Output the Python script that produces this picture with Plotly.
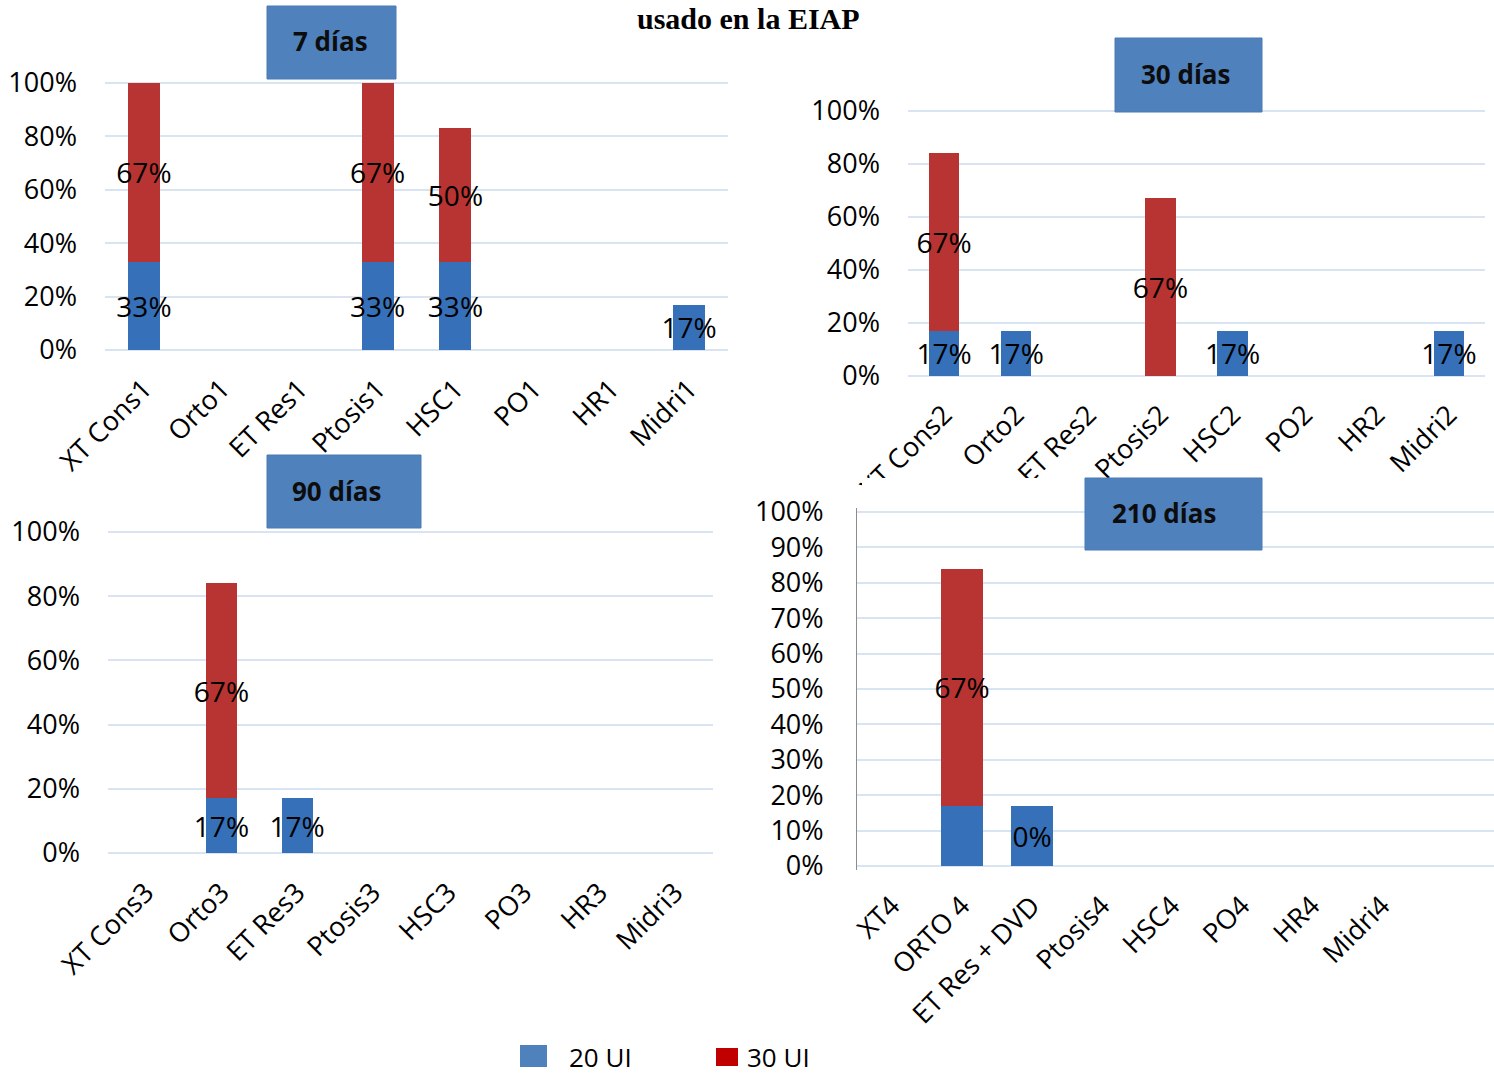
import plotly.graph_objects as go

# ---- data -------------------------------------------------------------
cats_7 = ["XT Cons1", "Orto1", "ET Res1", "Ptosis1", "HSC1", "PO1", "HR1", "Midri1"]
ui20_7 = [0.33, None, None, 0.33, 0.33, None, None, 0.17]
ui30_7 = [0.67, None, None, 0.67, 0.50, None, None, None]

cats_30 = ["XT Cons2", "Orto2", "ET Res2", "Ptosis2", "HSC2", "PO2", "HR2", "Midri2"]
ui20_30 = [0.17, 0.17, None, None, 0.17, None, None, 0.17]
ui30_30 = [0.67, None, None, 0.67, None, None, None, None]

cats_90 = ["XT Cons3", "Orto3", "ET Res3", "Ptosis3", "HSC3", "PO3", "HR3", "Midri3"]
ui20_90 = [None, 0.17, 0.17, None, None, None, None, None]
ui30_90 = [None, 0.67, None, None, None, None, None, None]

cats_210 = ["XT4", "ORTO 4", "ET Res + DVD", "Ptosis4", "HSC4", "PO4", "HR4", "Midri4"]
ui20_210 = [None, 0.17, 0.17, None, None, None, None, None]
ui30_210 = [None, 0.67, None, None, None, None, None, None]
labels20_210 = ["", "", "0%", "", "", "", "", ""]
labels30_210 = ["", "67%", "", "", "", "", "", ""]

series_names = ["20 UI", "30 UI"]
panel_titles = ["7 días", "30 días", "90 días", "210 días"]
chart_title = "usado en la EIAP"

# ---- styling ----------------------------------------------------------
W, H = 1494, 1074
FONT = "Open Sans"
BLUE = "#3570b8"
RED = "#b73433"
GRID = "#d8e4f2"
BOX = "#4f81bd"


def xdom(left, right):
    return [left / W, right / W]


def ydom(px0, px100, pad=0.01):
    ppu = px0 - px100
    bottom = px0 + pad * ppu
    top = px100 - pad * ppu
    return [1 - bottom / H, 1 - top / H]


fig = go.Figure()

panels = [
    dict(c=cats_7, a=ui20_7, b=ui30_7, la=None, lb=None, x=(105, 728), y=(350, 83),
         xr=[-0.5, 7.5], w=0.41, dt=0.2),
    dict(c=cats_30, a=ui20_30, b=ui30_30, la=None, lb=None, x=(908, 1485), y=(376, 111),
         xr=[-0.5, 7.5], w=0.42, dt=0.2),
    dict(c=cats_90, a=ui20_90, b=ui30_90, la=None, lb=None, x=(108, 713), y=(853, 532),
         xr=[-0.5, 7.5], w=0.41, dt=0.2),
    dict(c=cats_210, a=ui20_210, b=ui30_210, la=labels20_210, lb=labels30_210, x=(857, 1494),
         y=(866, 512), xr=[-0.5, 8.6], w=0.59, dt=0.1),
]

label_font = dict(family=FONT, size=28, color="black")
tick_font = dict(family=FONT, size=27, color="black")

for i, p in enumerate(panels, start=1):
    xa = "x" if i == 1 else f"x{i}"
    ya = "y" if i == 1 else f"y{i}"
    for vals, labels, name, color in ((p["a"], p["la"], series_names[0], BLUE),
                                      (p["b"], p["lb"], series_names[1], RED)):
        kw = {}
        if labels is None:
            kw["texttemplate"] = "%{y:.0%}"
        else:
            kw["text"] = labels
            kw["texttemplate"] = "%{text}"
        fig.add_trace(go.Bar(
            x=p["c"], y=vals, name=name, xaxis=xa, yaxis=ya,
            width=p["w"], marker=dict(color=color, line=dict(width=0)),
            textposition="inside", insidetextanchor="middle", textangle=0,
            constraintext="none", cliponaxis=False,
            insidetextfont=label_font, showlegend=False, hoverinfo="skip",
            **kw,
        ))

    ticks = [round(k * p["dt"], 2) for k in range(int(round(1 / p["dt"])) + 1)]
    fig.update_layout(**{
        ("xaxis" if i == 1 else f"xaxis{i}"): dict(
            domain=xdom(*p["x"]), anchor=ya, range=p["xr"], type="category",
            tickangle=-45, tickfont=tick_font,
            showgrid=False, showline=False, zeroline=False, ticks="",
            ticklabelstandoff=14, automargin=False, fixedrange=True,
        ),
        ("yaxis" if i == 1 else f"yaxis{i}"): dict(
            domain=ydom(*p["y"]), anchor=xa, range=[-0.01, 1.01],
            tickvals=ticks, tickformat=".0%", tickfont=tick_font,
            showgrid=True, gridcolor=GRID, gridwidth=2, zeroline=False,
            showline=(i == 4), linecolor="#8c8c8c", linewidth=1,
            ticks="", ticklabelstandoff=27, automargin=False, fixedrange=True,
        ),
    })

shapes = [
    # white margins where the 30-day labels run under the neighbouring panels
    dict(type="rect", xref="paper", yref="paper", x0=740 / W, x1=862 / W,
         y0=1 - 480 / H, y1=1 - 392 / H, fillcolor="white", line=dict(width=0), layer="above"),
    dict(type="rect", xref="paper", yref="paper", x0=862 / W, x1=1 - 0.0001,
         y0=1 - 500 / H, y1=1 - 478 / H, fillcolor="white", line=dict(width=0), layer="above"),
]

# title boxes for each panel
boxes = [(267, 396, 6, 79, 330), (1115, 1262, 38, 112, 1186),
         (267, 421, 455, 528, 337), (1085, 1262, 478, 550, 1164)]
annotations = []
for (x0, x1, y0, y1, tx), txt in zip(boxes, panel_titles):
    shapes.append(dict(type="rect", xref="paper", yref="paper",
                       x0=x0 / W, x1=x1 / W, y0=1 - y1 / H, y1=1 - y0 / H,
                       fillcolor=BOX, line=dict(color="#4a7ab3", width=1), layer="above"))
    annotations.append(dict(text=f"<b>{txt}</b>", xref="paper", yref="paper",
                            x=tx / W, y=1 - (y0 + y1 - 2) / 2 / H, xanchor="center", yanchor="middle",
                            showarrow=False, font=dict(family=FONT, size=26, color="#0d0d0d")))

# legend
legend_items = [(520, 547, 1045, 1067, "#4f81bd", 567, series_names[0]),
                (716, 738, 1048, 1066, "#c00000", 745, series_names[1])]
for x0, x1, y0, y1, col, tx, name in legend_items:
    shapes.append(dict(type="rect", xref="paper", yref="paper",
                       x0=x0 / W, x1=x1 / W, y0=1 - y1 / H, y1=1 - y0 / H,
                       fillcolor=col, line=dict(width=0), layer="above"))
    annotations.append(dict(text=name, xref="paper", yref="paper", x=tx / W, y=1 - 1057 / H,
                            xanchor="left", yanchor="middle", showarrow=False,
                            font=dict(family=FONT, size=26, color="black")))

annotations.append(dict(text=f"<b>{chart_title}</b>", xref="paper", yref="paper",
                        x=748 / W, y=1 - 1 / H, xanchor="center", yanchor="top",
                        showarrow=False, borderpad=0,
                        font=dict(family="Liberation Serif", size=30, color="black")))

fig.update_layout(
    width=W, height=H, margin=dict(l=0, r=0, t=0, b=0, autoexpand=False),
    paper_bgcolor="white", plot_bgcolor="white",
    barmode="stack", showlegend=False,
    shapes=shapes, annotations=annotations,
    font=dict(family=FONT),
)

fig.write_html("out.html")
